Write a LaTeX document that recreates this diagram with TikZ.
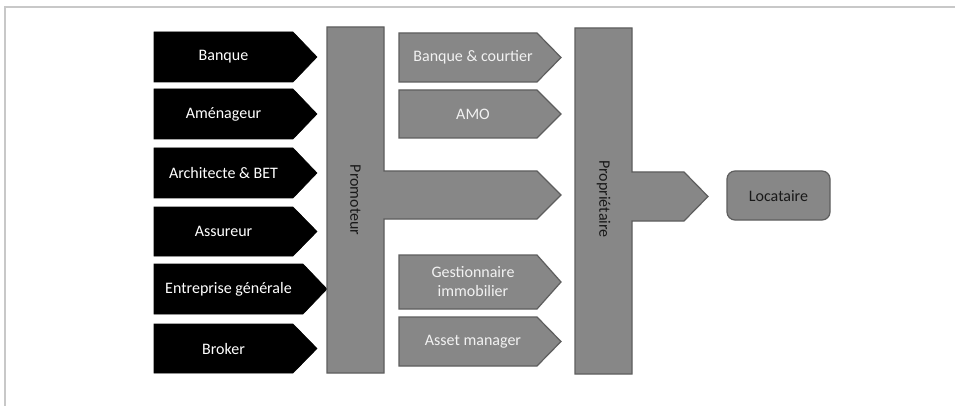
\documentclass[tikz,border=0pt]{standalone}
\usepackage{fontspec}
\setmainfont{Carlito}
\definecolor{boxgray}{HTML}{878787}
\definecolor{edgegray}{HTML}{5E5E5E}
\definecolor{framegray}{HTML}{C8C8C8}
\begin{document}
\begin{tikzpicture}[x=1pt,y=-1pt,
  blackarrow/.style={fill=black,draw=black,line width=0.6pt},
  grayarrow/.style={fill=boxgray,draw=edgegray,line width=1.2pt,line join=miter},
  wlabel/.style={text=white,font=\fontsize{16}{19}\selectfont,inner sep=0pt},
  glabel/.style={text=white!95!black,font=\fontsize{16}{19}\selectfont,inner sep=0pt,align=center},
  vlabel/.style={text=black!90,font=\fontsize{16}{19}\selectfont,inner sep=0pt,rotate=-90},
  klabel/.style={text=black!90,font=\fontsize{16}{19}\selectfont,inner sep=0pt}]
\useasboundingbox (0,0) rectangle (955,406);
\fill[white] (0,0) rectangle (955,406);
\draw[framegray,line width=1.2pt] (5,406) -- (5,7) -- (955,7);
% black arrows
\foreach \ya/\yb in {32/82,89/139,148/198,207/256,324/373}{
  \path[blackarrow] (154,\ya) -- (293,\ya) -- (317,{(\ya+\yb)/2}) -- (293,\yb) -- (154,\yb) -- cycle;
}
\path[blackarrow] (154,264) -- (303,264) -- (327,289) -- (303,314) -- (154,314) -- cycle;
\node[wlabel] (banque) at (223.5,57) {Banque};
\node[wlabel] (amenageur) at (223.5,114) {Aménageur};
\node[wlabel] (archi) at (223.5,173) {Architecte \& BET};
\node[wlabel] (assureur) at (223.5,231.5) {Assureur};
\node[wlabel] (entreprise) at (228.5,289) {Entreprise générale};
\node[wlabel] (broker) at (223.5,348.5) {Broker};
% Promoteur T
\path[grayarrow] (327,27) -- (384,27) -- (384,171) -- (537,171) -- (561,195) -- (537,219) -- (384,219) -- (384,373) -- (327,373) -- cycle;
\node[vlabel] (promoteur) at (355.5,200) {Promoteur};
% gray arrows
\foreach \ya/\yb in {33/82,90/138,255/309,317/366}{
  \path[grayarrow] (399,\ya) -- (537,\ya) -- (561,{(\ya+\yb)/2}) -- (537,\yb) -- (399,\yb) -- cycle;
}
\node[glabel] (bc) at (473,57.5) {Banque \& courtier};
\node[glabel] (amo) at (473,114) {AMO};
\node[glabel] (gest) at (473,282) {Gestionnaire\\immobilier};
\node[glabel] (asset) at (473,341.5) {Asset manager};
% Proprietaire T
\path[grayarrow] (575,28) -- (632,28) -- (632,172) -- (684,172) -- (708,196.5) -- (684,221) -- (632,221) -- (632,374) -- (575,374) -- cycle;
\node[vlabel] (proprio) at (603.5,199) {Propriétaire};
% Locataire
\draw[grayarrow,rounded corners=8pt] (727,171) rectangle (830,220);
\node[klabel] (locataire) at (778.5,196) {Locataire};
\end{tikzpicture}
\end{document}
